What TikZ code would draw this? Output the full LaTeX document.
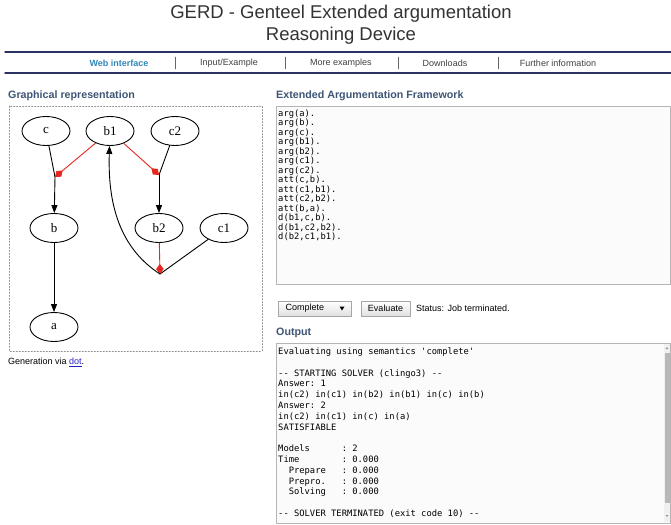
\documentclass[tikz,border=0pt]{standalone}
\usepackage{fontspec}
\setmainfont{Liberation Sans}
\setmonofont{DejaVu Sans Mono}
\newfontfamily\dotfont{Liberation Serif}
\usetikzlibrary{arrows.meta,shapes.geometric}
\definecolor{navline}{HTML}{2B3162}
\definecolor{headcol}{HTML}{3E5676}
\definecolor{navblue}{HTML}{2F88BA}
\definecolor{attred}{HTML}{E5281E}
\definecolor{linkcol}{HTML}{2B22C4}
\definecolor{boxline}{HTML}{B5B5B5}
\definecolor{boxfill}{HTML}{FBFBFB}
\tikzset{
  arg/.style={draw, line width=0.9pt, ellipse, minimum width=48pt, minimum height=29pt, inner sep=0pt, font=\dotfont\fontsize{13}{14}\selectfont},
  att/.style={line width=0.9pt, -{Triangle[length=8pt,width=6pt]}},
  defeat/.style={attred, line width=0.9pt, -{Diamond[length=10pt,width=7.5pt]}},
  heading/.style={anchor=west, inner sep=0pt, text=headcol, font=\bfseries\fontsize{10.7}{12}\selectfont},
  navitem/.style={text=black!75, font=\fontsize{9}{11}\selectfont},
  uitext/.style={font=\fontsize{9}{11}\selectfont},
  button/.style={draw=black!35, top color=white, bottom color=black!12},
  codebox/.style={draw=boxline, fill=boxfill},
}
\begin{document}
\begin{tikzpicture}[x=1pt, y=-1pt, line join=round, line cap=round]
\useasboundingbox[fill=white] (0,0) rectangle (671,524);
% title and menu bar
\node[text=black!80, font=\fontsize{18.5}{20}\selectfont] (title1) at (341,14) {GERD - Genteel Extended argumentation};
\node[text=black!80, font=\fontsize{18.5}{20}\selectfont] (title2) at (341,36) {Reasoning Device};
\draw[navline, line width=1.5pt] (5,52) -- (671,52) (5,73) -- (671,73);
\node[navitem, text=navblue, font=\bfseries\fontsize{9}{11}\selectfont] (web) at (119,63) {Web interface};
\node[navitem] (input) at (229,63) {Input/Example};
\node[navitem] (more) at (341,63) {More examples};
\node[navitem] (down) at (445,63) {Downloads};
\node[navitem] (info) at (558,63) {Further information};
\foreach \x in {175,285,398,498}
  \draw[black!60] (\x,57) -- (\x,69);

% graph of the framework
\node[heading] (graphhead) at (8,96) {Graphical representation};
\draw[black!45, dash pattern=on 1.5pt off 1.5pt] (9,106) rectangle (262,351);
\node[arg] (c) at (46,131) {c};
\node[arg] (b1) at (110,131) {b1};
\node[arg] (c2) at (175,131) {c2};
\node[arg] (b) at (54,228) {b};
\node[arg] (b2) at (159,228) {b2};
\node[arg] (c1) at (224,228) {c1};
\node[arg] (a) at (54,327) {a};
\path
(55,177) coordinate (cb)
(159,175) coordinate (c2b2)
(160,274) coordinate (c1b1)
;
\draw[line width=0.9pt] (c) -- (cb);
\draw[att] (cb) -- (b);
\draw[defeat] (b1) -- (cb);
\draw[line width=0.9pt] (c2) -- (c2b2);
\draw[att] (c2b2) -- (b2);
\draw[defeat] (b1) -- (c2b2);
\draw[line width=0.9pt] (c1) -- (c1b1);
\draw[defeat] (b2) -- (c1b1);
\draw[att] (c1b1) .. controls (115,245) and (108,195) .. (b1);
\draw[att] (b) -- (a);
\node[anchor=west, inner sep=0pt, uitext] (gen) at (8,362) {Generation via \textcolor{linkcol}{\underline{dot}}.};

% input framework
\node[heading] (eafhead) at (276,96) {Extended Argumentation Framework};
\draw[codebox] (276,106) rectangle (670,284);
\node[anchor=north west, inner sep=0pt, align=left, font=\ttfamily\fontsize{8.8}{9.5}\selectfont] (eaf) at (278,109.5)
{arg(a).\\arg(b).\\arg(c).\\arg(b1).\\arg(b2).\\arg(c1).\\arg(c2).\\att(c,b).\\att(c1,b1).\\att(c2,b2).\\att(b,a).\\d(b1,c,b).\\d(b1,c2,b2).\\d(b2,c1,b1).};

% semantics choice
\draw[button] (278,301) rectangle (351,316);
\node[anchor=west, uitext] (sem) at (282,308.5) {Complete};
\fill (339.5,306.5) -- (344.5,306.5) -- (342,310.5) -- cycle;
\node[button, minimum width=49pt, minimum height=15pt, inner sep=0pt, uitext] (eval) at (385.5,308.5) {Evaluate};
\node[anchor=west, inner sep=0pt, uitext] (status) at (416,308.5) {Status: Job terminated.};

% solver output
\node[heading] (outhead) at (276,333) {Output};
\draw[codebox] (276,343) rectangle (670,523);
\fill[black!6] (664,344) rectangle (669.5,522);
\fill[black!28] (665,353) rectangle (669.5,503);
\fill[black!40] (665.5,349) -- (668.5,349) -- (667,347) -- cycle;
\fill[black!40] (665.5,515) -- (668.5,515) -- (667,517) -- cycle;
\node[anchor=north west, inner sep=0pt, align=left, font=\ttfamily\fontsize{8.8}{10.8}\selectfont] (out) at (278,347.5)
{Evaluating using semantics 'complete'\\[10.8pt]
-- STARTING SOLVER (clingo3) --\\
Answer: 1\\
in(c2) in(c1) in(b2) in(b1) in(c) in(b)\\
Answer: 2\\
in(c2) in(c1) in(c) in(a)\\
SATISFIABLE\\[10.8pt]
Models~~~~~~: 2\\
Time~~~~~~~~: 0.000\\
~~Prepare~~~: 0.000\\
~~Prepro.~~~: 0.000\\
~~Solving~~~: 0.000\\[10.8pt]
-- SOLVER TERMINATED (exit code 10) --};
\end{tikzpicture}
\end{document}
